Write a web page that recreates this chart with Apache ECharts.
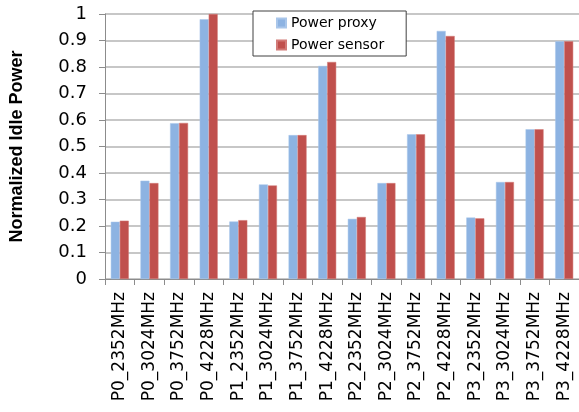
<!DOCTYPE html>
<html>
<head>
<meta charset="utf-8">
<script src="https://cdn.jsdelivr.net/npm/echarts@6/dist/echarts.min.js"></script>
<style>html,body{margin:0;padding:0;background:#fff}#c{width:579px;height:412px}</style>
</head>
<body>
<div id="c"></div>
<script>
const categories = ["P0_2352MHz","P0_3024MHz","P0_3752MHz","P0_4228MHz",
  "P1_2352MHz","P1_3024MHz","P1_3752MHz","P1_4228MHz",
  "P2_2352MHz","P2_3024MHz","P2_3752MHz","P2_4228MHz",
  "P3_2352MHz","P3_3024MHz","P3_3752MHz","P3_4228MHz"];
const powerProxy  = [0.216,0.371,0.588,0.980, 0.217,0.357,0.543,0.804, 0.227,0.362,0.546,0.936, 0.232,0.366,0.565,0.897];
const powerSensor = [0.220,0.362,0.589,1.000, 0.222,0.353,0.543,0.819, 0.234,0.362,0.546,0.917, 0.229,0.366,0.565,0.897];
const yTicks = [0,0.1,0.2,0.3,0.4,0.5,0.6,0.7,0.8,0.9,1];

const chart = echarts.init(document.getElementById('c'));
chart.setOption({
  animation: false,
  backgroundColor: '#fff',
  grid: { left: 96, right: -1, top: 14, bottom: 133, containLabel: false },
  legend: {
    orient: 'vertical', left: 253, top: 11,
    backgroundColor: '#fff', borderColor: '#404040', borderWidth: 1,
    padding: [4, 22, 3, 23], itemGap: 6,
    itemWidth: 9, itemHeight: 9, icon: 'rect',
    textStyle: { fontFamily: 'DejaVu Sans', fontSize: 14, color: '#000', lineHeight: 16 },
    data: ['Power proxy', 'Power sensor']
  },
  xAxis: {
    type: 'category', data: categories,
    axisLine: { lineStyle: { color: '#8c8c8c', width: 1 } },
    axisTick: { show: true, length: 6, alignWithLabel: false, lineStyle: { color: '#8c8c8c' } },
    axisLabel: { rotate: 90, margin: 13, fontFamily: 'DejaVu Sans', fontSize: 17, color: '#000', interval: 0 }
  },
  yAxis: {
    type: 'value', min: 0, max: 1, interval: 0.1,
    name: 'Normalized Idle Power', nameLocation: 'middle', nameGap: 79,
    nameTextStyle: { fontFamily: 'Liberation Sans', fontWeight: 'bold', fontSize: 18, color: '#000' },
    axisLine: { show: true, lineStyle: { color: '#8c8c8c', width: 1 } },
    axisTick: { show: true, length: 6, lineStyle: { color: '#8c8c8c' } },
    axisLabel: { margin: 18, fontFamily: 'DejaVu Sans', fontSize: 18, color: '#000',
      formatter: v => { const t = yTicks.find(x => Math.abs(x - v) < 1e-9); return t === undefined ? '' : String(t); } },
    splitLine: { lineStyle: { color: '#b4b4b4', width: 1.5 } }
  },
  series: [
    { name: 'Power proxy', type: 'bar', data: powerProxy, barWidth: 9, barGap: '0%',
      itemStyle: { color: '#8DB3E2', borderColor: '#a9c6ea', borderWidth: 0.5 } },
    { name: 'Power sensor', type: 'bar', data: powerSensor, barWidth: 9, barGap: '0%',
      itemStyle: { color: '#C0504D', borderColor: '#d27a77', borderWidth: 0.5 } }
  ]
});
</script>
</body>
</html>
